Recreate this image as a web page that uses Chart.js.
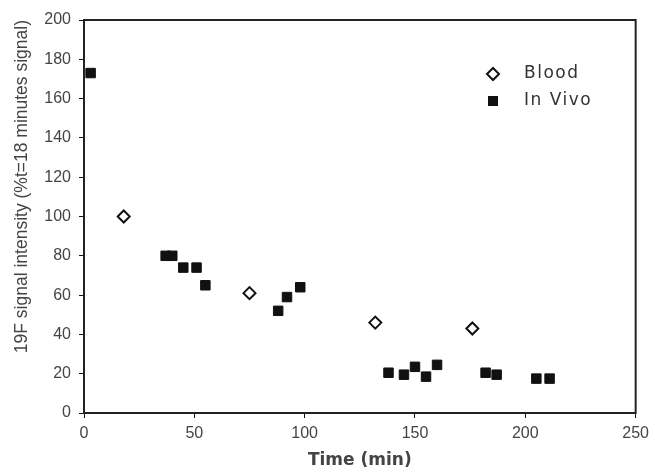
<!DOCTYPE html>
<html>
<head>
<meta charset="utf-8">
<script src="https://cdn.jsdelivr.net/npm/chart.js@4/dist/chart.umd.min.js"></script>
<style>
  html, body { margin: 0; padding: 0; background: #fff; }
  #wrap { width: 655px; height: 475px; }
</style>
</head>
<body>
<div id="wrap"><canvas id="chart"></canvas></div>
<script>
// Blood samples (open diamonds)
const bloodTime = [18, 75, 132, 176];
const bloodSignal = [100, 61, 46, 43];

// In vivo measurements (filled squares)
const vivoTime = [3, 37, 40, 45, 51, 55, 88, 92, 98, 138, 145, 150, 155, 160, 182, 187, 205, 211];
const vivoSignal = [173, 80, 80, 74, 74, 65, 52, 59, 64, 20.5, 19.5, 23.5, 18.5, 24.5, 20.5, 19.5, 17.5, 17.5];

const seriesNames = ['Blood', 'In Vivo'];
const xTitle = 'Time (min)';
const yTitle = '19F signal intensity (%t=18 minutes signal)';

function toPoints(xs, ys) {
    return xs.map((x, i) => ({ x: x, y: ys[i] }));
}

// cadre autour de la zone du graphique + légende dans le coin
const framePlugin = {
    id: 'frame',
    afterDraw(chart) {
        const ctx = chart.ctx;
        const a = chart.chartArea;
        ctx.save();
        ctx.strokeStyle = '#222';
        ctx.lineWidth = 2;
        ctx.strokeRect(a.left, a.top, a.right - a.left, a.bottom - a.top);

        // légende
        ctx.font = '17px "DejaVu Sans"';
        if ('letterSpacing' in ctx) ctx.letterSpacing = '1.5px';
        ctx.textBaseline = 'middle';
        const rows = [{ y: 74, style: 'diamond' }, { y: 101, style: 'square' }];
        rows.forEach((r, i) => {
            const cx = 493;
            ctx.beginPath();
            if (r.style === 'diamond') {
                ctx.moveTo(cx - 6, r.y);
                ctx.lineTo(cx, r.y - 6);
                ctx.lineTo(cx + 6, r.y);
                ctx.lineTo(cx, r.y + 6);
                ctx.closePath();
                ctx.fillStyle = '#fff';
                ctx.fill();
                ctx.lineWidth = 2;
                ctx.strokeStyle = '#111';
                ctx.stroke();
            } else {
                ctx.fillStyle = '#111';
                ctx.fillRect(cx - 5, r.y - 5, 10, 10);
            }
            ctx.fillStyle = '#333';
            ctx.fillText(seriesNames[i], 524, r.y);
        });
        ctx.restore();
    }
};

new Chart(document.getElementById('chart'), {
    type: 'scatter',
    data: {
        datasets: [{
            label: seriesNames[0],
            data: toPoints(bloodTime, bloodSignal),
            pointStyle: 'rectRot',
            pointRadius: 6,
            pointHoverRadius: 6,
            borderWidth: 2,
            borderColor: '#111',
            backgroundColor: '#fff'
        }, {
            label: seriesNames[1],
            data: toPoints(vivoTime, vivoSignal),
            pointStyle: 'rect',
            pointRadius: 6.7,
            pointHoverRadius: 6.7,
            borderWidth: 1,
            borderColor: '#111',
            backgroundColor: '#111'
        }]
    },
    options: {
        responsive: true,
        maintainAspectRatio: false,
        animation: false,
        clip: false,
        layout: { padding: { top: 20, right: 17, left: 0, bottom: 0 } },
        plugins: {
            legend: { display: false },
            tooltip: { enabled: false }
        },
        scales: {
            x: {
                type: 'linear',
                min: 0,
                max: 250,
                ticks: { stepSize: 50, color: '#444', padding: 6, font: { family: 'Liberation Sans', size: 16 } },
                grid: { drawOnChartArea: false, drawTicks: true, tickLength: 5, tickColor: '#111' },
                border: { color: '#111', width: 2 },
                title: { display: true, text: xTitle, color: '#444', padding: { top: 6 }, font: { family: 'DejaVu Sans', size: 17, weight: 'bold' } },
                afterFit(scale) { scale.height = 62; }
            },
            y: {
                min: 0,
                max: 200,
                ticks: { stepSize: 20, color: '#444', padding: 8, font: { family: 'Liberation Sans', size: 16 } },
                grid: { drawOnChartArea: false, drawTicks: true, tickLength: 5, tickColor: '#111' },
                border: { color: '#111', width: 2 },
                title: { display: true, text: yTitle, align: 'end', color: '#444', padding: { top: 12, bottom: 2 }, font: { family: 'Liberation Sans', size: 17.5 } },
                afterFit(scale) { scale.width = 84; }
            }
        }
    },
    plugins: [framePlugin]
});
</script>
</body>
</html>
